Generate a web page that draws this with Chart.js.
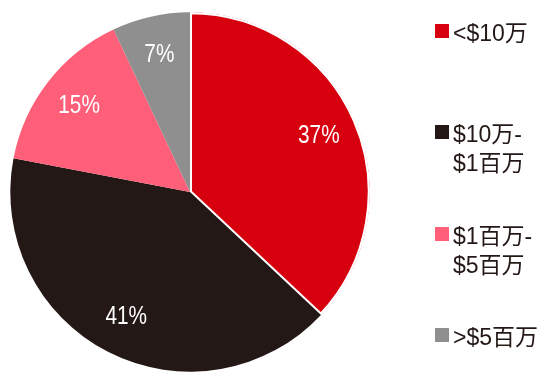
<!DOCTYPE html>
<html>
<head>
<meta charset="utf-8">
<script src="https://cdn.jsdelivr.net/npm/chart.js@4/dist/chart.umd.min.js"></script>
<style>
  html, body { margin: 0; padding: 0; background: #fff; }
  #wrap { position: relative; width: 549px; height: 381px; overflow: hidden; }
  #c { position: absolute; left: 0; top: 0; }
  .item { position: absolute; left: 453px; font-family: "Liberation Sans", Arial, "Noto Sans CJK SC", sans-serif; font-size: 23px; line-height: 29px; color: #231815; white-space: nowrap; }
  .sq { position: absolute; left: -18px; top: 5px; width: 14px; height: 14px; }
</style>
</head>
<body>
<div id="wrap">
  <canvas id="c" width="549" height="381"></canvas>
  <div id="legend"></div>
</div>
<script>
const categories = ["<$10万", "$10万-\n$1百万", "$1百万-\n$5百万", ">$5百万"];
const shares = [37, 41, 15, 7];
const colors = ["#D7000F", "#231815", "#FF5F78", "#8F8F8F"];
const legendTops = [19, 120, 222, 323];

// HTML legend
const legend = document.getElementById('legend');
categories.forEach((cat, i) => {
  const d = document.createElement('div');
  d.className = 'item';
  d.style.top = legendTops[i] + 'px';
  const sq = document.createElement('span');
  sq.className = 'sq';
  sq.style.background = colors[i];
  d.appendChild(sq);
  cat.split('\n').forEach((line, j) => {
    if (j > 0) d.appendChild(document.createElement('br'));
    d.appendChild(document.createTextNode(line));
  });
  legend.appendChild(d);
});

const labelPlugin = {
  id: 'sliceLabels',
  afterDatasetsDraw(chart) {
    const ctx = chart.ctx;
    const meta = chart.getDatasetMeta(0);
    meta.data.forEach((arc, i) => {
      const p = arc.getProps(['x', 'y', 'startAngle', 'endAngle', 'outerRadius'], true);
      const mid = (p.startAngle + p.endAngle) / 2;
      const r = p.outerRadius * 0.78;
      ctx.save();
      ctx.translate(p.x + Math.cos(mid) * r, p.y + Math.sin(mid) * r);
      ctx.scale(0.8, 1);
      ctx.fillStyle = '#ffffff';
      ctx.textAlign = 'center';
      ctx.textBaseline = 'middle';
      ctx.font = '26px "Liberation Sans", Arial, sans-serif';
      ctx.fillText(shares[i] + '%', 0, 0);
      ctx.restore();
    });
  }
};

new Chart(document.getElementById('c'), {
  type: 'pie',
  data: {
    labels: categories,
    datasets: [{
      data: shares,
      backgroundColor: colors,
      borderColor: '#ffffff',
      borderWidth: [2, 0, 0, 0],
      borderAlign: 'inner'
    }]
  },
  options: {
    responsive: false,
    animation: false,
    layout: { padding: { left: 10, top: 12, bottom: 9, right: 179 } },
    plugins: { legend: { display: false }, tooltip: { enabled: false } }
  },
  plugins: [labelPlugin]
});
</script>
</body>
</html>
